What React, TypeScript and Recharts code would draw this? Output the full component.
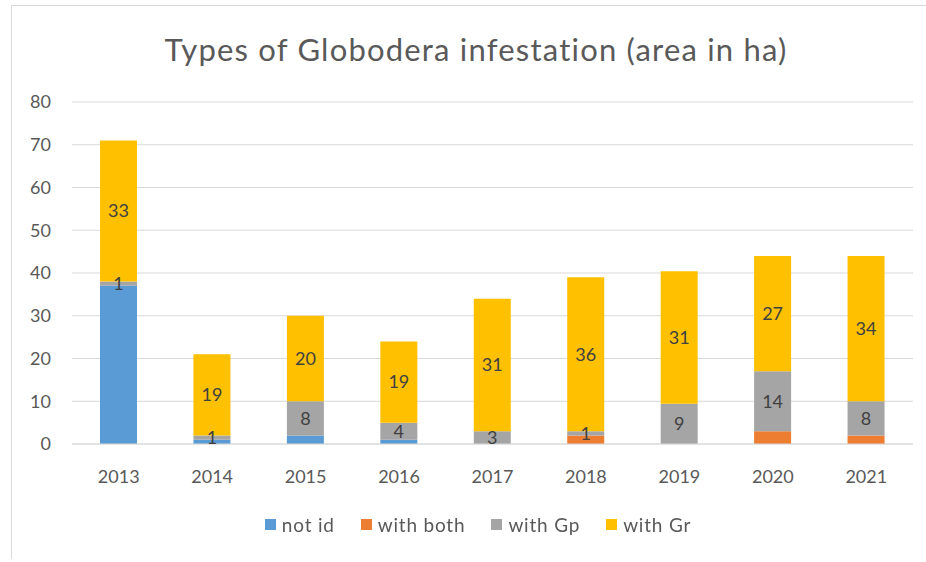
import { BarChart, Bar, XAxis, YAxis, CartesianGrid, Legend, LabelList } from "recharts";

const years = ["2013", "2014", "2015", "2016", "2017", "2018", "2019", "2020", "2021"];
const notId = [37, 1, 2, 1, 0, 0, 0, 0, 0];
const withBoth = [0, 0, 0, 0, 0, 2, 0, 3, 2];
const withGp = [1, 1, 8, 4, 3, 1, 9.4, 14, 8];
const withGr = [33, 19, 20, 19, 31, 36, 31, 27, 34];
const yTicks = [0, 10, 20, 30, 40, 50, 60, 70, 80];

const series = [
  { key: "notId", name: "not id", color: "#5B9BD5" },
  { key: "withBoth", name: "with both", color: "#ED7D31" },
  { key: "withGp", name: "with Gp", color: "#A5A5A5" },
  { key: "withGr", name: "with Gr", color: "#FFC000" },
];

const data = years.map((year, i) => ({
  year,
  notId: notId[i],
  withBoth: withBoth[i],
  withGp: withGp[i],
  withGr: withGr[i],
}));

const font = "Lato, 'Open Sans', sans-serif";
const textGrey = "#595959";

const showLabel = (v: any) => (v ? Math.round(Number(v)) : "");

function LegendBox() {
  return (
    <div
      style={{
        display: "flex",
        justifyContent: "center",
        gap: 26,
        fontSize: 19,
        letterSpacing: 0.8,
        fontFamily: font,
        color: textGrey,
      }}
    >
      {series.map((s) => (
        <div key={s.key} style={{ display: "flex", alignItems: "center", gap: 6 }}>
          <span style={{ width: 11, height: 11, background: s.color, display: "inline-block" }} />
          <span>{s.name}</span>
        </div>
      ))}
    </div>
  );
}

export default function App() {
  return (
    <div style={{ position: "fixed", left: 0, top: 0, width: 926, height: 562, background: "#fff", fontFamily: font }}>
      <div
        style={{
          position: "absolute",
          left: 11,
          top: 5,
          width: 915,
          height: 553,
          borderLeft: "1px solid #d9d9d9",
          borderTop: "1px solid #d9d9d9",
        }}
      />
      <div
        style={{
          position: "absolute",
          left: 0,
          top: 30,
          width: 952,
          textAlign: "center",
          fontSize: 31,
          letterSpacing: 1.2,
          color: textGrey,
        }}
      >
        Types of Globodera infestation (area in ha)
      </div>
      <div style={{ position: "absolute", left: 0, top: 0 }}>
        <BarChart
          width={926}
          height={562}
          data={data}
          barSize={37}
          margin={{ top: 102, right: 13, left: 0, bottom: 37 }}
        >
          <CartesianGrid vertical={false} stroke="#d9d9d9" />
          <XAxis
            dataKey="year"
            axisLine={{ stroke: "#d9d9d9" }}
            tickLine={false}
            tickSize={0}
            tickMargin={26}
            height={58}
            tick={{ fill: textGrey, fontSize: 18, fontFamily: font }}
          />
          <YAxis
            domain={[0, 80]}
            ticks={yTicks}
            axisLine={false}
            tickLine={false}
            tickSize={0}
            tickMargin={21}
            width={72}
            tick={{ fill: textGrey, fontSize: 18, fontFamily: font }}
          />
          <Legend
            content={() => <LegendBox />}
            wrapperStyle={{ position: "absolute", top: 513, left: 15, width: 926 }}
          />
          {series.map((s) => (
            <Bar key={s.key} dataKey={s.key} name={s.name} stackId="a" fill={s.color} isAnimationActive={false}>
              {(s.key === "withGp" || s.key === "withGr") && (
                <LabelList dataKey={s.key} position="center" formatter={showLabel} fill="#404040" fontSize={18} fontFamily={font} />
              )}
            </Bar>
          ))}
        </BarChart>
      </div>
    </div>
  );
}
